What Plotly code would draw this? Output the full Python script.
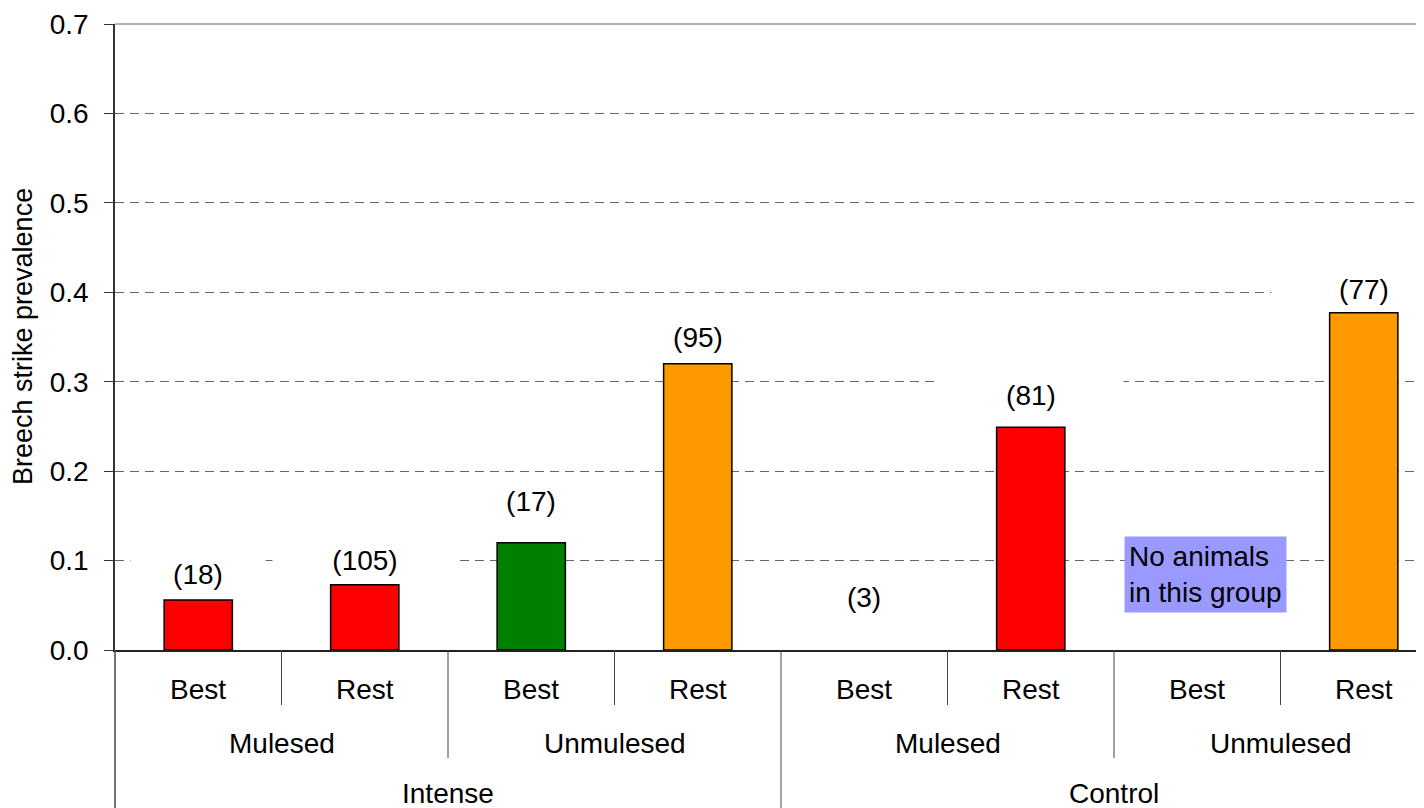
import plotly.graph_objs as go

# three-level category axis, innermost first
level1 = ["Best", "Rest", "Best", "Rest", "Best", "Rest", "Best", "Rest"]
level2 = ["Mulesed", "Mulesed", "Unmulesed", "Unmulesed",
          "Mulesed", "Mulesed", "Unmulesed", "Unmulesed"]
level3 = ["Intense", "Intense", "Intense", "Intense",
          "Control", "Control", "Control", "Control"]

prevalence = [0.056, 0.073, 0.120, 0.320, 0.0, 0.249, None, 0.377]
group_n = ["(18)", "(105)", "(17)", "(95)", "(3)", "(81)", None, "(77)"]
bar_colors = ["#FF0000", "#FF0000", "#008000", "#FF9900",
              "#FF0000", "#FF0000", "#FFFFFF", "#FF9900"]

empty_note = "No animals<br>in this group"

FONT = "Arial, Liberation Sans, sans-serif"
FS = 28

# label placement (pixels above bar top) and white box widths, as drawn in the source
label_lift = [25, 24, 41, 26, 53, 32, 0, 23]
label_box_w = [128, 178, 150, 150, 150, 178, 0, 178]

xs = list(range(len(level1)))
n = len(xs)
xmax = n - 0.5 - (1447 - 1424) / 166.5  # source chart is cropped on the right

# page body adds an 8px offset, so the figure is 8px smaller than the window
W, H = 1416, 800
ML, MT, MB = 107, 16, 158
plot_h = H - MT - MB

fig = go.Figure()
fig.add_trace(
    go.Bar(
        x=xs,
        y=prevalence,
        width=0.41,
        marker={
            "color": bar_colors,
            "line": {"color": "black",
                     "width": [1.5 if v else 0 for v in prevalence]},
        },
        showlegend=False,
        hoverinfo="skip",
    )
)

# sample size labels in white boxes
for i, (v, lab) in enumerate(zip(prevalence, group_n)):
    if lab is None:
        continue
    fig.add_annotation(
        x=i, y=0 if v is None else v, xref="x", yref="y",
        text=lab, showarrow=False, yanchor="middle", xanchor="center",
        yshift=label_lift[i], width=label_box_w[i], align="center",
        bgcolor="white", borderpad=3,
        font={"family": FONT, "size": FS, "color": "black"},
    )

# note for the empty group
empty_idx = prevalence.index(None)
fig.add_annotation(
    x=empty_idx + 0.05, y=0.084, xref="x", yref="y",
    text=empty_note, showarrow=False, align="left",
    xanchor="center", yanchor="middle",
    bgcolor="#9999FF", borderpad=4,
    font={"family": FONT, "size": FS, "color": "black"},
)


def add_level(labels, parent, shift):
    """Centre one label under each run of equal (labels, parent) entries."""
    start = 0
    for i in range(1, n + 1):
        if i == n or (labels[i], parent[i]) != (labels[start], parent[start]) or labels is level1:
            fig.add_annotation(
                x=(start + i - 1) / 2, y=0, xref="x", yref="paper",
                text=labels[start], showarrow=False, yanchor="middle",
                yshift=shift,
                font={"family": FONT, "size": FS, "color": "black"},
            )
            start = i


add_level(level1, xs, -39)
add_level(level2, level3, -93)
add_level(level3, level3, -143)

# divider lines between categories
for i in range(n - 1):
    if level3[i] != level3[i + 1]:
        depth = MB
    elif level2[i] != level2[i + 1]:
        depth = 108
    else:
        depth = 55
    fig.add_shape(
        type="line", xref="x", yref="paper",
        x0=i + 0.5, x1=i + 0.5, y0=0, y1=-depth / plot_h,
        line={"color": "#444", "width": 1},
    )
fig.add_shape(
    type="line", xref="paper", yref="paper",
    x0=0, x1=0, y0=0, y1=-MB / plot_h,
    line={"color": "#444", "width": 1.5},
)
# solid top border at 0.7
fig.add_shape(
    type="line", xref="paper", yref="paper",
    x0=0, x1=1, y0=1, y1=1,
    line={"color": "#999", "width": 1.5},
)

fig.add_annotation(
    x=0, y=0.5, xref="paper", yref="paper", xshift=-(ML - 15),
    text="Breech strike prevalence", textangle=-90, showarrow=False,
    xanchor="center", yanchor="middle",
    font={"family": FONT, "size": 27, "color": "black"},
)

fig.update_layout(
    width=W,
    height=H,
    margin={"l": ML, "r": 0, "t": MT, "b": MB},
    plot_bgcolor="white",
    paper_bgcolor="white",
    font={"family": FONT, "size": FS, "color": "black"},
    xaxis={
        "range": [-0.5, xmax],
        "showticklabels": False,
        "showgrid": False,
        "zeroline": False,
        "showline": True,
        "linecolor": "#222",
        "linewidth": 1.5,
        "ticks": "",
    },
    yaxis={
        "range": [0, 0.7],
        "dtick": 0.1,
        "tickformat": ".1f",
        "showgrid": True,
        "gridcolor": "#666",
        "gridwidth": 1,
        "griddash": "9px,6px",
        "zeroline": False,
        "showline": True,
        "linecolor": "#333",
        "linewidth": 1.5,
        "ticks": "outside",
        "ticklen": 9,
        "tickcolor": "#333",
        "ticklabelstandoff": 10,
        "tickfont": {"family": FONT, "size": FS, "color": "black"},
    },
)

fig.write_html("out.html")
